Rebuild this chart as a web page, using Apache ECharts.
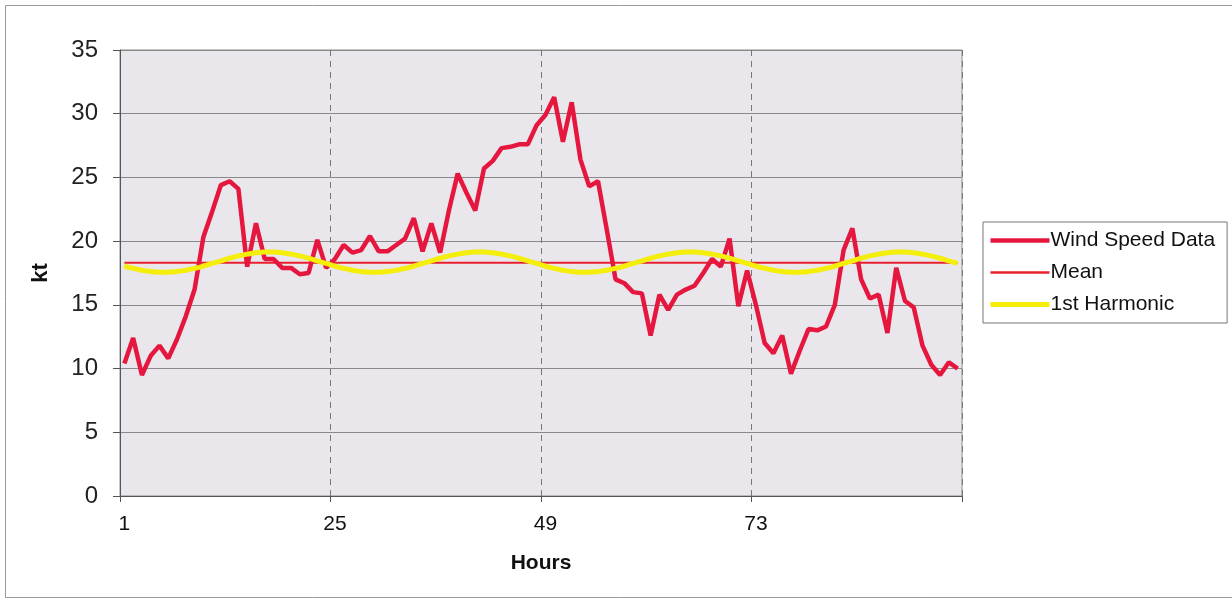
<!DOCTYPE html>
<html>
<head>
<meta charset="utf-8">
<script src="https://cdn.jsdelivr.net/npm/echarts@6/dist/echarts.min.js"></script>
<style>
  html, body { margin: 0; padding: 0; background: #fff; }
  #main { width: 1232px; height: 603px; }
</style>
</head>
<body>
<div id="main"></div>
<script>
// hours 1..96
var hours = [];
for (var i = 1; i <= 96; i++) hours.push(String(i));

// wind speed (kt)
var windSpeed = [
  10.4, 12.4, 9.5, 11.0, 11.8, 10.8, 12.3, 14.1, 16.2, 20.3,
  22.3, 24.4, 24.7, 24.1, 18.0, 21.4, 18.6, 18.6, 17.9, 17.9,
  17.4, 17.5, 20.1, 17.9, 18.6, 19.7, 19.1, 19.3, 20.4, 19.2,
  19.2, 19.7, 20.2, 21.8, 19.2, 21.4, 19.1, 22.4, 25.3, 23.8,
  22.4, 25.7, 26.3, 27.3, 27.4, 27.6, 27.6, 29.1, 29.9, 31.3,
  27.8, 30.9, 26.4, 24.3, 24.7, 20.9, 17.0, 16.7, 16.0, 15.9,
  12.6, 15.8, 14.6, 15.8, 16.2, 16.5, 17.5, 18.6, 18.0, 20.2,
  14.9, 17.7, 15.0, 12.0, 11.2, 12.6, 9.6, 11.4, 13.1, 13.0,
  13.3, 15.0, 19.3, 21.0, 17.0, 15.5, 15.8, 12.8, 17.9, 15.3,
  14.8, 11.8, 10.3, 9.5, 10.5, 10.0
];

var meanValue = 18.3;

// 1st harmonic
var harmonic = [
  18.04, 17.86, 17.72, 17.61, 17.56, 17.56, 17.61, 17.72, 17.86, 18.04, 18.25, 18.45,
  18.66, 18.84, 18.98, 19.09, 19.14, 19.14, 19.09, 18.98, 18.84, 18.66, 18.45, 18.25,
  18.04, 17.86, 17.72, 17.61, 17.56, 17.56, 17.61, 17.72, 17.86, 18.04, 18.25, 18.45,
  18.66, 18.84, 18.98, 19.09, 19.14, 19.14, 19.09, 18.98, 18.84, 18.66, 18.45, 18.25,
  18.04, 17.86, 17.72, 17.61, 17.56, 17.56, 17.61, 17.72, 17.86, 18.04, 18.25, 18.45,
  18.66, 18.84, 18.98, 19.09, 19.14, 19.14, 19.09, 18.98, 18.84, 18.66, 18.45, 18.25,
  18.04, 17.86, 17.72, 17.61, 17.56, 17.56, 17.61, 17.72, 17.86, 18.04, 18.25, 18.45,
  18.66, 18.84, 18.98, 19.09, 19.14, 19.14, 19.09, 18.98, 18.84, 18.66, 18.45, 18.25
];

var myChart = echarts.init(document.getElementById('main'));

myChart.setOption({
  animation: false,
  textStyle: { fontFamily: 'Liberation Sans, Arial, sans-serif' },
  graphic: [{
    type: 'rect',
    shape: { x: 5.5, y: 5.5, width: 1240, height: 592 },
    style: { fill: 'none', stroke: '#999', lineWidth: 1 },
    silent: true,
    z: -10
  }],
  grid: {
    left: 120,
    right: 270,
    top: 50,
    bottom: 107,
    show: true,
    backgroundColor: '#e9e7ec',
    borderColor: '#8c8c8c',
    borderWidth: 1
  },
  legend: {
    orient: 'vertical',
    left: 983,
    top: 222,
    backgroundColor: '#fff',
    borderColor: '#777',
    borderWidth: 1,
    padding: [8, 12, 8, 5],
    itemWidth: 59,
    itemHeight: 14,
    itemGap: 11,
    itemStyle: { opacity: 0 },
    textStyle: { fontSize: 21, color: '#111', padding: [0, 0, 0, -4] },
    data: [
      { name: 'Wind Speed Data', lineStyle: { width: 4.5 } },
      { name: 'Mean', lineStyle: { width: 2.5 } },
      { name: '1st Harmonic', lineStyle: { width: 5 } }
    ]
  },
  xAxis: {
    type: 'category',
    data: hours,
    boundaryGap: true,
    name: 'Hours',
    nameLocation: 'middle',
    nameGap: 57,
    nameTextStyle: { fontSize: 21, fontWeight: 'bold', color: '#111' },
    axisLine: { lineStyle: { color: '#555', width: 1 } },
    axisTick: { show: true, interval: 23, length: 6, lineStyle: { color: '#555' } },
    axisLabel: { interval: 23, fontSize: 21, color: '#111', margin: 18 },
    splitLine: {
      show: true,
      interval: 23,
      lineStyle: { color: '#777', type: [6, 5], width: 1 }
    }
  },
  yAxis: {
    type: 'value',
    min: 0,
    max: 35,
    interval: 5,
    name: 'kt',
    nameLocation: 'middle',
    nameGap: 68,
    nameTextStyle: { fontSize: 22, fontWeight: 'bold', color: '#111' },
    axisLine: { show: true, lineStyle: { color: '#555', width: 1 } },
    axisTick: { show: true, length: 7, lineStyle: { color: '#555' } },
    axisLabel: { fontSize: 24, color: '#222', margin: 22 },
    splitLine: { lineStyle: { color: '#8a8a8a', width: 1 } }
  },
  series: [
    {
      name: 'Wind Speed Data',
      type: 'line',
      data: windSpeed,
      symbol: 'none',
      z: 3,
      color: '#e5173f',
      lineStyle: { color: '#e5173f', width: 4.5 }
    },
    {
      name: 'Mean',
      type: 'line',
      data: hours.map(function () { return meanValue; }),
      symbol: 'none',
      z: 2,
      color: '#e8202e',
      lineStyle: { color: '#e8202e', width: 2 }
    },
    {
      name: '1st Harmonic',
      type: 'line',
      data: harmonic,
      symbol: 'none',
      smooth: true,
      z: 4,
      color: '#f4ee0a',
      lineStyle: { color: '#f4ee0a', width: 5 }
    }
  ]
});
</script>
</body>
</html>
